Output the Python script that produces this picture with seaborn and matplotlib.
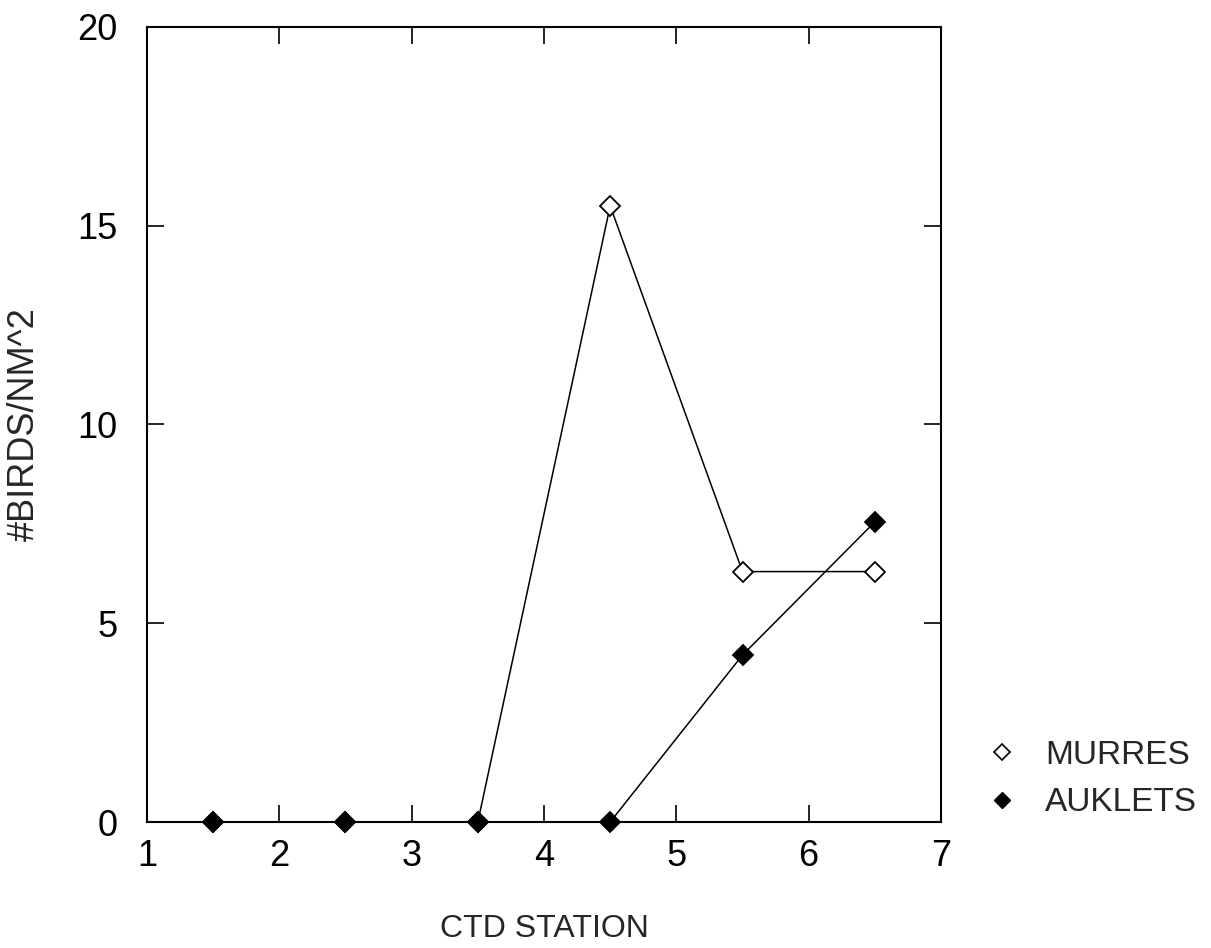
import matplotlib
matplotlib.use("Agg")
import matplotlib.pyplot as plt
import seaborn as sns
import pandas as pd
from matplotlib.lines import Line2D

# ---- data ----
stations = [1.5, 2.5, 3.5, 4.5, 5.5, 6.5]
murres = [0.0, 0.0, 0.0, 15.5, 6.3, 6.3]
auklets = [0.0, 0.0, 0.0, 0.0, 4.2, 7.55]
series_names = ["MURRES", "AUKLETS"]
x_ticks = [1, 2, 3, 4, 5, 6, 7]
y_ticks = [0, 5, 10, 15, 20]
x_label = "CTD STATION"
y_label = "#BIRDS/NM^2"

sns.set_theme(style="ticks")
plt.rcParams["font.family"] = ["Liberation Sans", "DejaVu Sans"]

fig = plt.figure(figsize=(12.11, 9.48), dpi=100)
ax = fig.add_axes([147 / 1211, 1 - 822 / 948, 794 / 1211, 795 / 948])

df_m = pd.DataFrame({"station": stations, "value": murres})
df_a = pd.DataFrame({"station": stations, "value": auklets})

sns.lineplot(data=df_m, x="station", y="value", ax=ax, color="black",
             linewidth=1.1, marker="D", markersize=10.5, markerfacecolor="white",
             markeredgecolor="black", markeredgewidth=1.3, legend=False,
             zorder=3, clip_on=False)
sns.lineplot(data=df_a, x="station", y="value", ax=ax, color="black",
             linewidth=1.1, marker="D", markersize=10, markerfacecolor="black",
             markeredgecolor="black", markeredgewidth=1.3, legend=False,
             zorder=4, clip_on=False)

ax.set_xlim(1, 7)
ax.set_ylim(0, 20)
ax.set_xticks(x_ticks)
ax.set_yticks(y_ticks)
ax.set_xticklabels([str(t) for t in x_ticks])
ax.set_yticklabels([str(t) for t in y_ticks])

for s in ax.spines.values():
    s.set_visible(True)
    s.set_linewidth(1.5)
    s.set_color("black")
    s.set_zorder(2)

ax.tick_params(axis="both", which="major", direction="in", length=12, width=1.2,
               top=True, right=True, labelsize=26, colors="black")
ax.tick_params(axis="x", pad=12)
ax.tick_params(axis="y", pad=21)

ax.set_xlabel(x_label, fontsize=23)
ax.set_ylabel(y_label, fontsize=26)
ax.xaxis.set_label_coords(0.5, -0.116)
ax.yaxis.set_label_coords(-0.133, 0.5)

handles = [
    Line2D([], [], linestyle="", marker="D", markersize=8, markerfacecolor="white",
           markeredgecolor="black", markeredgewidth=1.2),
    Line2D([], [], linestyle="", marker="D", markersize=8, markerfacecolor="black",
           markeredgecolor="black"),
]
fig.legend(handles, series_names, loc="center left",
           bbox_to_anchor=(985 / 1211, 1 - 779 / 948), frameon=False,
           fontsize=24, handlelength=1.0, handletextpad=0.8, labelspacing=0.5,
           borderpad=0, borderaxespad=0)

ax.set_facecolor("white")
fig.patch.set_facecolor("white")
fig.savefig("out.png", dpi=100, facecolor="white")
